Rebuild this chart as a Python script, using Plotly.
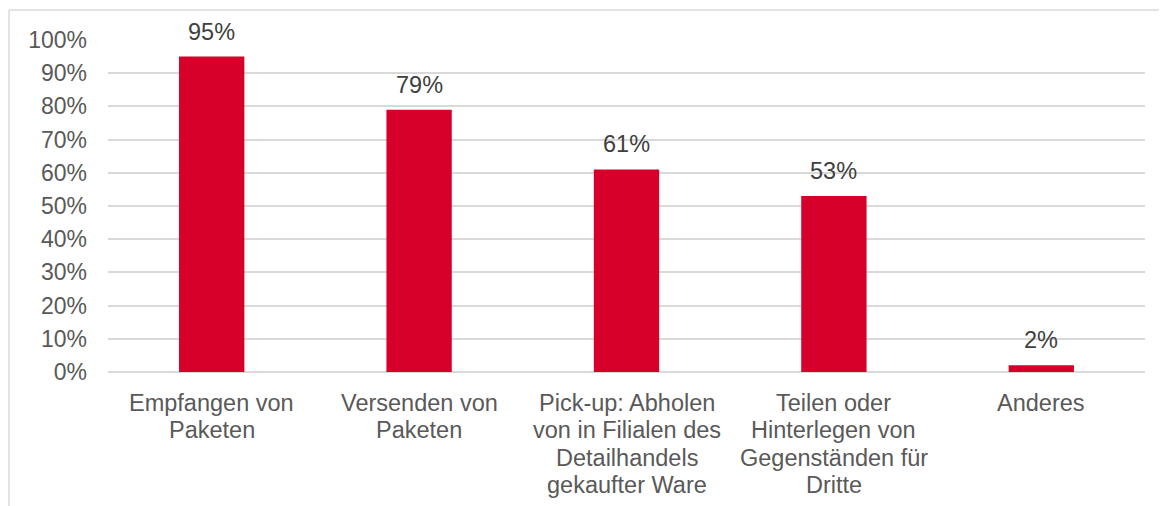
import plotly.graph_objects as go

categories = [
    "Empfangen von<br>Paketen",
    "Versenden von<br>Paketen",
    "Pick-up: Abholen<br>von in Filialen des<br>Detailhandels<br>gekaufter Ware",
    "Teilen oder<br>Hinterlegen von<br>Gegenständen für<br>Dritte",
    "Anderes",
]
values = [95, 79, 61, 53, 2]
y_ticks = [0, 10, 20, 30, 40, 50, 60, 70, 80, 90, 100]

# page body has an 8px margin; figure sized to fit the window
W, H = 1159, 498
ml, mr, mt, mb = 100, 22, 32, 134
pw, ph = W - ml - mr, H - mt - mb

def px_x(x):
    return (x - ml) / pw

def px_y(y):
    return (H - mb - y) / ph

FONT = "Liberation Sans, Arial, sans-serif"
RED = "#D6002A"
GRID = "#D9D9D9"
LABEL_SIZE = 23.5
LINE_GAP = 27.3

fig = go.Figure(
    go.Bar(
        x=list(range(len(categories))),
        y=values,
        marker=dict(color=RED, line=dict(width=0)),
        width=0.315,
        hoverinfo="skip",
    )
)

annotations = []
for i, (cat, v) in enumerate(zip(categories, values)):
    # value label above bar
    annotations.append(dict(
        x=i, y=v, xref="x", yref="y", text=f"{v}%", showarrow=False,
        yanchor="middle", yshift=25,
        font=dict(family=FONT, size=LABEL_SIZE, color="#404040"),
    ))
    # category label lines below axis
    for j, line in enumerate(cat.split("<br>")):
        annotations.append(dict(
            x=i, y=0, xref="x", yref="y", text=line, showarrow=False,
            yanchor="middle", yshift=-(31 + LINE_GAP * j),
            font=dict(family=FONT, size=LABEL_SIZE, color="#595959"),
        ))

fig.update_layout(
    width=W,
    height=H,
    margin=dict(l=ml, r=mr, t=mt, b=mb),
    paper_bgcolor="white",
    plot_bgcolor="white",
    showlegend=False,
    font=dict(family=FONT, size=23, color="#595959"),
    xaxis=dict(
        range=[-0.5, len(categories) - 0.5],
        showgrid=False,
        showline=False,
        ticks="",
        showticklabels=False,
        zeroline=False,
    ),
    yaxis=dict(
        range=[0, 100],
        tickvals=y_ticks,
        ticktext=[f"{t}%" for t in y_ticks],
        showgrid=True,
        gridcolor=GRID,
        gridwidth=1.5,
        zeroline=True,
        zerolinecolor=GRID,
        zerolinewidth=1.5,
        showline=False,
        ticks="",
        ticklabelstandoff=20,
        tickfont=dict(family=FONT, size=23, color="#595959"),
    ),
    annotations=annotations,
    shapes=[
        dict(type="line", xref="paper", yref="paper",
             x0=px_x(1), x1=px_x(W), y0=px_y(2), y1=px_y(2),
             line=dict(color=GRID, width=1.5)),
        dict(type="line", xref="paper", yref="paper",
             x0=px_x(1), x1=px_x(1), y0=px_y(2), y1=px_y(H),
             line=dict(color=GRID, width=1.5)),
    ],
)

fig.write_html("out.html")
